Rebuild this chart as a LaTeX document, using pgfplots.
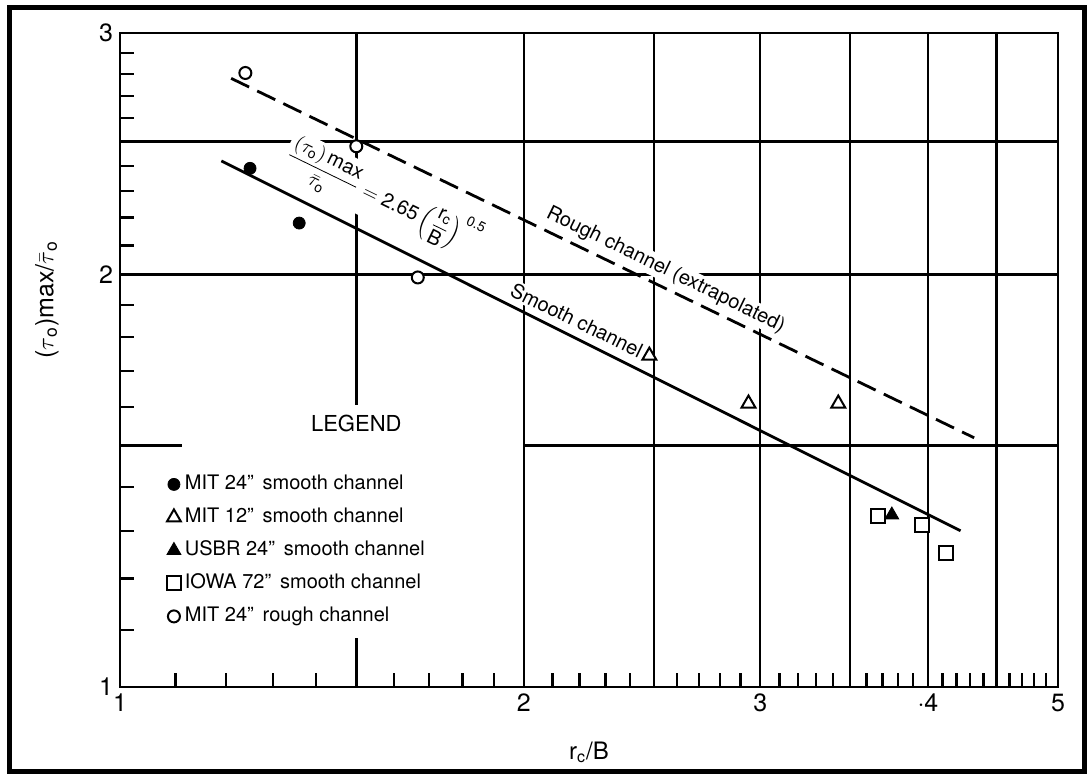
\documentclass[border=0pt]{standalone}
\usepackage{fontspec}
\setmainfont{TeX Gyre Heros}
\usepackage{amsmath}
\usepackage{pgfplots}
\pgfplotsset{compat=1.18}

\begin{document}
\begin{tikzpicture}
\path[use as bounding box] (0pt,0pt) rectangle (546pt,390pt);
\draw[line width=2.5pt] (4.5pt,4pt) rectangle (542pt,386pt);
\begin{axis}[
    at={(60pt,46.5pt)}, anchor=south west,
    scale only axis, width=469pt, height=327pt,
    xmode=log, ymode=log,
    xmin=1, xmax=5, ymin=1, ymax=3,
    axis line style={line width=1.4pt},
    xtick={1,2,3,4,5}, xticklabels={1,2,3,·4,5},
    ytick={1,2,3}, yticklabels={1,2,3},
    minor xtick={1.1,1.2,1.3,1.4,1.6,1.7,1.8,1.9,2.1,2.2,2.3,2.4,2.6,2.7,2.8,2.9,
                 3.1,3.2,3.3,3.4,3.6,3.7,3.8,3.9,4.1,4.2,4.3,4.4,4.6,4.7,4.8,4.9},
    minor ytick={1.1,1.2,1.3,1.4,1.6,1.7,1.8,1.9,2.1,2.2,2.3,2.4,2.6,2.7,2.8,2.9},
    major tick length=0pt, minor tick length=7pt,
    tick style={line width=1.2pt, black},
    tick pos=left, tick align=inside,
    ticklabel style={font=\fontsize{12.5}{14}\selectfont},
    /pgf/number format/assume math mode=true,
    xlabel={r\textsubscript{c}/B},
    xlabel style={at={(axis description cs:0.5,-0.1)}, anchor=center, font=\fontsize{12}{14}\selectfont},
    ylabel={($\tau$\textsubscript{o})max/$\bar{\tau}$\textsubscript{o}},
    ylabel style={at={(axis description cs:-0.078,0.592)}, anchor=center, font=\fontsize{12.5}{14}\selectfont},
    legend cell align=left,
    legend style={draw=none, fill=none, inner sep=0pt, row sep=0pt,
        at={(axis description cs:0.0496,0.3356)}, anchor=north west,
        font=\fontsize{10}{12}\selectfont,
        nodes={text height=7.5pt, text depth=2pt, inner ysep=3.5pt}},
    legend image code/.code={\draw[mark repeat=2,mark phase=2,#1]
        plot coordinates {(0cm,0cm) (0.15cm,0cm) (0.3cm,0cm)};},
]

% grid lines, partly cut by the legend
\draw[line width=1.2pt] (1.5,1.607) -- (1.5,3);
\draw[line width=1.2pt] (1.5,1) -- (1.5,1.086);
\draw[line width=1.2pt] (2,1) -- (2,3);
\draw[line width=1.2pt] (2.5,1) -- (2.5,3);
\draw[line width=1.2pt] (3,1) -- (3,3);
\draw[line width=1.2pt] (3.5,1) -- (3.5,3);
\draw[line width=1.2pt] (4,1) -- (4,3);
\draw[line width=1.2pt] (4.5,1) -- (4.5,3);
\draw[line width=1.2pt] (1,2.5) -- (5,2.5);
\draw[line width=1.2pt] (1,2) -- (5,2);
\draw[line width=1.2pt] (1,1.5) -- (1.113,1.5);
\draw[line width=1.2pt] (2,1.5) -- (5,1.5);

% labels
\node[fill=white, inner sep=1pt, rotate=-26, font=\fontsize{10}{12}\selectfont]
    at (1.57,2.27)
    {$\dfrac{(\tau_{\text{o}})\,\text{max}}{\bar{\tau}_{\text{o}}} = \text{2.65}\left(\dfrac{\text{r}_{\text{c}}}{\text{B}}\right)^{\text{0.5}}$};
\node[fill=white, inner sep=1pt, rotate=-26, font=\fontsize{10}{12}\selectfont]
    at (2.55,2.015) {Rough channel (extrapolated)};
\node[fill=white, inner sep=1pt, rotate=-26, font=\fontsize{10}{12}\selectfont]
    at (2.19,1.852) {Smooth channel};
\node[font=\fontsize{11}{13}\selectfont] at (1.5,1.558) {LEGEND};

% fitted lines
\addplot[black, line width=1.4pt, forget plot] coordinates {(1.19,2.42) (4.23,1.30)};
\addplot[black, line width=1.4pt, dash pattern=on 10pt off 4.5pt, forget plot]
    coordinates {(1.21,2.78) (4.33,1.52)};

% data
\addplot[only marks, mark=*, mark size=3pt, black] coordinates {(1.25,2.39) (1.36,2.18)};
\addlegendentry{MIT 24''\, smooth channel}
\addplot[only marks, mark=triangle*, mark size=4pt, black, mark options={fill=white, line width=1pt}]
    coordinates {(2.48,1.745) (2.94,1.61) (3.43,1.61)};
\addlegendentry{MIT 12''\, smooth channel}
\addplot[only marks, mark=triangle*, mark size=4pt, black] coordinates {(3.76,1.335)};
\addlegendentry{USBR 24''\, smooth channel}
\addplot[only marks, mark=square*, mark size=3.5pt, black, mark options={fill=white, line width=1pt}]
    coordinates {(3.67,1.333) (3.96,1.313) (4.125,1.253)};
\addlegendentry{IOWA 72''\, smooth channel}
\addplot[only marks, mark=*, mark size=3pt, black, mark options={fill=white, line width=1pt}]
    coordinates {(1.24,2.805) (1.5,2.48) (1.667,1.99)};
\addlegendentry{MIT 24''\, rough channel}
\end{axis}
\end{tikzpicture}
\end{document}
